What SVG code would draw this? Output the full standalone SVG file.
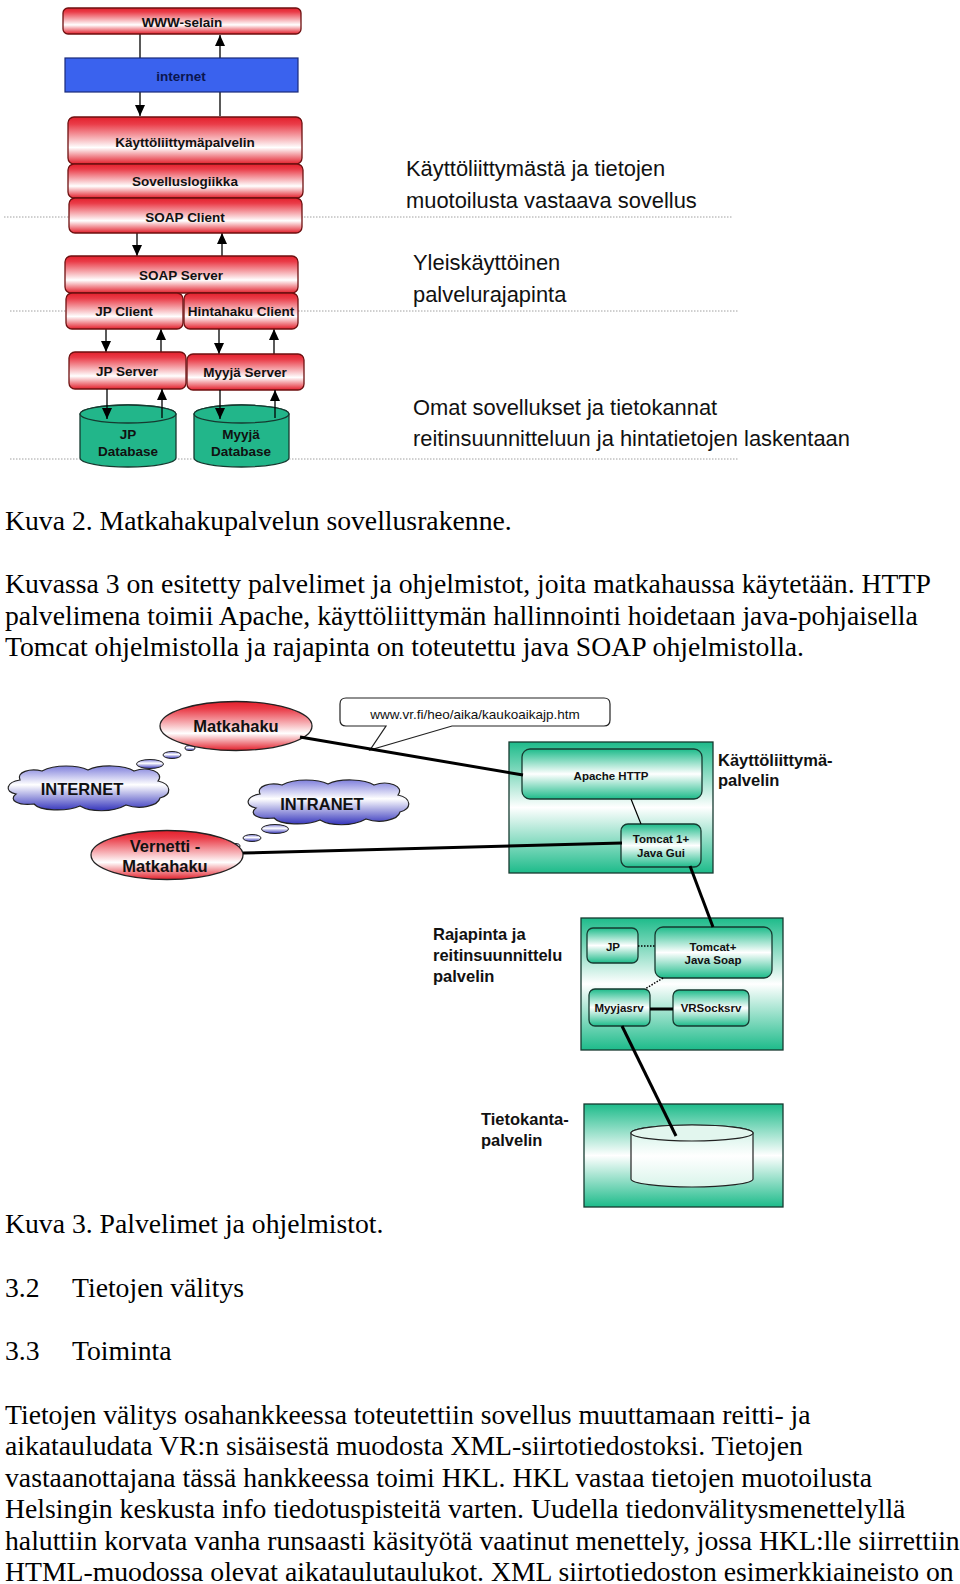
<svg xmlns="http://www.w3.org/2000/svg" width="960" height="1584" viewBox="0 0 960 1584">
<style>
.sep{stroke:#a0a0a0;stroke-width:1;stroke-dasharray:1.5 1.5;fill:none}
.rbox{fill:url(#redG);stroke:#6e1010;stroke-width:1.3}
.blab{font-family:"Liberation Sans",Arial,sans-serif;font-weight:bold;font-size:13.5px;fill:#111;text-anchor:middle}
.side{font-family:"Liberation Sans",Arial,sans-serif;font-size:21.9px;fill:#111}
.body{font-family:"Liberation Serif","Times New Roman",serif;font-size:27.7px;fill:#000}
.glab{font-family:"Liberation Sans",Arial,sans-serif;font-weight:bold;font-size:16.5px;fill:#111}
.ilab{font-family:"Liberation Sans",Arial,sans-serif;font-weight:bold;font-size:11.5px;fill:#111;text-anchor:middle}
.gbox{fill:url(#greenG);stroke:#163a30;stroke-width:1.3}
.arr{stroke:#000;stroke-width:1.3;fill:none}
.thick{stroke:#000;stroke-width:3;fill:none}
.thin{stroke:#000;stroke-width:1.2;fill:none}
.dot{stroke:#000;stroke-width:1.5;stroke-dasharray:1.5 1.5;fill:none}
.cloud{fill:url(#cloudG);stroke:#222;stroke-width:1.2}
.bub{fill:url(#cloudG);stroke:#222;stroke-width:1}
</style>
<defs>
<linearGradient id="redG" x1="0" y1="0" x2="0" y2="1">
<stop offset="0" stop-color="#e3202c"/>
<stop offset="0.15" stop-color="#ea3c48"/>
<stop offset="0.65" stop-color="#ffffff"/>
<stop offset="1" stop-color="#e3202c"/>
</linearGradient>
<linearGradient id="greenG" x1="0" y1="0" x2="0" y2="1">
<stop offset="0" stop-color="#1dbb8a"/>
<stop offset="0.5" stop-color="#ffffff"/>
<stop offset="1" stop-color="#1dbb8a"/>
</linearGradient>
<linearGradient id="cylG" x1="0" y1="0" x2="0" y2="1">
<stop offset="0" stop-color="#c8efe2"/>
<stop offset="0.5" stop-color="#ffffff"/>
<stop offset="1" stop-color="#d8f4ea"/>
</linearGradient>
<linearGradient id="cloudG" x1="0" y1="0" x2="0" y2="1">
<stop offset="0" stop-color="#8080dc"/>
<stop offset="0.42" stop-color="#ffffff"/>
<stop offset="1" stop-color="#3434bc"/>
</linearGradient>
<marker id="ah" markerUnits="userSpaceOnUse" markerWidth="11" markerHeight="10" refX="11" refY="5" orient="auto">
<path d="M0,0 L11,5 L0,10 Z" fill="#000"/>
</marker>
</defs>
<rect width="960" height="1584" fill="#fff"/>

<g id="separators">
<line class="sep" x1="4" y1="217" x2="732" y2="217"/>
<line class="sep" x1="10" y1="311" x2="738" y2="311"/>
<line class="sep" x1="10" y1="459" x2="739" y2="459"/>
</g>

<g id="stack-connectors">
<line class="arr" x1="140" y1="34" x2="140" y2="58"/>
<line class="arr" x1="140" y1="92" x2="140" y2="116" marker-end="url(#ah)"/>
<line class="arr" x1="220" y1="116" x2="220" y2="92"/>
<line class="arr" x1="220" y1="58" x2="220" y2="35" marker-end="url(#ah)"/>
<line class="arr" x1="137" y1="233" x2="137" y2="256" marker-end="url(#ah)"/>
<line class="arr" x1="222" y1="256" x2="222" y2="233" marker-end="url(#ah)"/>
<line class="arr" x1="106" y1="329" x2="106" y2="352" marker-end="url(#ah)"/>
<line class="arr" x1="161" y1="352" x2="161" y2="329" marker-end="url(#ah)"/>
<line class="arr" x1="219" y1="329" x2="219" y2="354" marker-end="url(#ah)"/>
<line class="arr" x1="274" y1="354" x2="274" y2="329" marker-end="url(#ah)"/>
</g>

<g id="www-selain"><rect class="rbox" x="63" y="8" width="238" height="26" rx="5"/><text class="blab" x="182" y="27">WWW-selain</text></g>
<g id="internet"><rect x="65" y="58" width="233" height="34" fill="#3a62ee" stroke="#1a2a7a" stroke-width="1.2"/><text class="blab" x="181" y="81" style="fill:#0b1650">internet</text></g>
<g id="kayttoliittymapalvelin"><rect class="rbox" x="68" y="117" width="234" height="47" rx="6"/><text class="blab" x="185" y="147">Käyttöliittymäpalvelin</text></g>
<g id="sovelluslogiikka"><rect class="rbox" x="68" y="164" width="235" height="34" rx="6"/><text class="blab" x="185" y="186">Sovelluslogiikka</text></g>
<g id="soap-client"><rect class="rbox" x="69" y="198" width="233" height="35" rx="6"/><text class="blab" x="185" y="222">SOAP Client</text></g>
<g id="soap-server"><rect class="rbox" x="65" y="256" width="233" height="37" rx="6"/><text class="blab" x="181" y="280">SOAP Server</text></g>
<g id="jp-client"><rect class="rbox" x="66" y="293" width="117" height="36" rx="6"/><text class="blab" x="124" y="316">JP Client</text></g>
<g id="hintahaku-client"><rect class="rbox" x="184" y="293" width="114" height="36" rx="6"/><text class="blab" x="241" y="316">Hintahaku Client</text></g>
<g id="jp-server"><rect class="rbox" x="69" y="352" width="117" height="37" rx="6"/><text class="blab" x="127" y="376">JP Server</text></g>
<g id="myyja-server"><rect class="rbox" x="187" y="354" width="117" height="36" rx="6"/><text class="blab" x="245" y="377">Myyjä Server</text></g>

<g id="jp-database">
<path d="M80,414 A48,9 0 0 1 176,414 L176,458 A48,9 0 0 1 80,458 Z" fill="#22b68a" stroke="#163a30" stroke-width="1.3"/>
<ellipse cx="128" cy="414" rx="48" ry="9" fill="#22b68a" stroke="#163a30" stroke-width="1.3"/>
<text class="blab" x="128" y="439">JP</text><text class="blab" x="128" y="456">Database</text>
</g>
<g id="myyja-database">
<path d="M194,414 A47.5,9 0 0 1 289,414 L289,458 A47.5,9 0 0 1 194,458 Z" fill="#22b68a" stroke="#163a30" stroke-width="1.3"/>
<ellipse cx="241.5" cy="414" rx="47.5" ry="9" fill="#22b68a" stroke="#163a30" stroke-width="1.3"/>
<text class="blab" x="241" y="439">Myyjä</text><text class="blab" x="241" y="456">Database</text>
</g>

<g id="db-connectors">
<line class="arr" x1="107" y1="389" x2="107" y2="419" marker-end="url(#ah)"/>
<line class="arr" x1="162" y1="418" x2="162" y2="389" marker-end="url(#ah)"/>
<line class="arr" x1="220" y1="390" x2="220" y2="419" marker-end="url(#ah)"/>
<line class="arr" x1="275" y1="418" x2="275" y2="390" marker-end="url(#ah)"/>
</g>

<g id="side-labels">
<text class="side" x="406" y="176">Käyttöliittymästä ja tietojen</text>
<text class="side" x="406" y="208">muotoilusta vastaava sovellus</text>
<text class="side" x="413" y="270">Yleiskäyttöinen</text>
<text class="side" x="413" y="302">palvelurajapinta</text>
<text class="side" x="413" y="415">Omat sovellukset ja tietokannat</text>
<text class="side" x="413" y="446">reitinsuunnitteluun ja hintatietojen laskentaan</text>
</g>

<g id="text-top">
<text class="body" x="5" y="530">Kuva 2. Matkahakupalvelun sovellusrakenne.</text>
<text class="body" x="5" y="593">Kuvassa 3 on esitetty palvelimet ja ohjelmistot, joita matkahaussa käytetään. HTTP</text>
<text class="body" x="5" y="624.5">palvelimena toimii Apache, käyttöliittymän hallinnointi hoidetaan java-pohjaisella</text>
<text class="body" x="5" y="656">Tomcat ohjelmistolla ja rajapinta on toteutettu java SOAP ohjelmistolla.</text>
</g>

<g id="bubbles">
<ellipse class="bub" cx="150" cy="764" rx="13.5" ry="4.5"/>
<ellipse class="bub" cx="172" cy="755" rx="9" ry="3.5"/>
<ellipse class="bub" cx="190" cy="748" rx="5" ry="2.5"/>
<ellipse class="bub" cx="275" cy="829" rx="13.5" ry="4.5"/>
<ellipse class="bub" cx="252" cy="838" rx="9" ry="3.5"/>
<ellipse class="bub" cx="235" cy="846" rx="5" ry="2.5"/>
</g>

<g id="internet-cloud">
<path class="cloud" d="M20,780 C16,772 30,768 42,771 C55,764 78,765 88,770 C100,764 125,765 134,771 C148,766 165,772 158,781 C172,784 172,795 160,798 C158,806 140,810 126,805 C112,813 90,812 80,806 C66,812 40,811 34,804 C18,806 8,800 16,794 C4,792 6,782 20,780 Z"/>
<text class="glab" x="82" y="795" text-anchor="middle">INTERNET</text>
</g>
<g id="intranet-cloud">
<path class="cloud" transform="translate(240,14)" d="M20,780 C16,772 30,768 42,771 C55,764 78,765 88,770 C100,764 125,765 134,771 C148,766 165,772 158,781 C172,784 172,795 160,798 C158,806 140,810 126,805 C112,813 90,812 80,806 C66,812 40,811 34,804 C18,806 8,800 16,794 C4,792 6,782 20,780 Z"/>
<text class="glab" x="322" y="810" text-anchor="middle">INTRANET</text>
</g>

<g id="matkahaku">
<ellipse cx="236" cy="726" rx="76" ry="24.5" fill="url(#redG)" stroke="#222" stroke-width="1.3"/>
<text class="glab" x="236" y="732" text-anchor="middle">Matkahaku</text>
</g>
<g id="vernetti">
<ellipse cx="167" cy="855" rx="76" ry="24.5" fill="url(#redG)" stroke="#222" stroke-width="1.3"/>
<text class="glab" x="165" y="852" text-anchor="middle">Vernetti -</text>
<text class="glab" x="165" y="872" text-anchor="middle">Matkahaku</text>
</g>

<g id="url-callout">
<path d="M346,698 L604,698 Q610,698 610,704 L610,720 Q610,726 604,726 L452,726 L370,750 L386,726 L346,726 Q340,726 340,720 L340,704 Q340,698 346,698 Z" fill="#fff" stroke="#222" stroke-width="1.2"/>
<text x="475" y="719" text-anchor="middle" style="font-family:'Liberation Sans',Arial,sans-serif;font-size:13.5px;fill:#111">www.vr.fi/heo/aika/kaukoaikajp.htm</text>
</g>

<g id="kayttoliittyma-server">
<rect class="gbox" x="509" y="742" width="204" height="131"/>
<text class="glab" x="718" y="766">Käyttöliittymä-</text>
<text class="glab" x="718" y="786">palvelin</text>
</g>
<g id="apache-http"><rect class="gbox" x="522" y="749" width="180" height="50" rx="8"/><text class="ilab" x="611" y="780">Apache HTTP</text></g>
<g id="tomcat1"><rect class="gbox" x="621" y="824" width="80" height="43" rx="7"/><text class="ilab" x="661" y="843">Tomcat 1+</text><text class="ilab" x="661" y="857">Java Gui</text></g>

<g id="rajapinta-server">
<rect class="gbox" x="581" y="918" width="202" height="132"/>
<text class="glab" x="433" y="940">Rajapinta ja</text>
<text class="glab" x="433" y="961">reitinsuunnittelu</text>
<text class="glab" x="433" y="982">palvelin</text>
</g>
<g id="jp"><rect class="gbox" x="587" y="928" width="51" height="35" rx="6"/><text class="ilab" x="613" y="951">JP</text></g>
<g id="tomcat-soap"><rect class="gbox" x="655" y="927" width="117" height="51" rx="8"/><text class="ilab" x="713" y="951">Tomcat+</text><text class="ilab" x="713" y="964">Java Soap</text></g>
<g id="myyjasrv"><rect class="gbox" x="589" y="989" width="61" height="37" rx="6"/><text class="ilab" x="619" y="1012">Myyjasrv</text></g>
<g id="vrsocksrv"><rect class="gbox" x="673" y="990" width="76" height="36" rx="6"/><text class="ilab" x="711" y="1012">VRSocksrv</text></g>

<g id="tietokanta-server">
<rect class="gbox" x="584" y="1104" width="199" height="103"/>
<path d="M631,1133 A61,8 0 0 1 753,1133 L753,1179 A61,8 0 0 1 631,1179 Z" fill="url(#cylG)" stroke="#222" stroke-width="1.2"/>
<ellipse cx="692" cy="1133" rx="61" ry="8" fill="#e2f6ee" stroke="#222" stroke-width="1.2"/>
<text class="glab" x="481" y="1125">Tietokanta-</text>
<text class="glab" x="481" y="1146">palvelin</text>
</g>

<g id="connectors">
<line class="thick" x1="300" y1="737" x2="523" y2="775"/>
<line class="thick" x1="243" y1="853" x2="622" y2="843"/>
<line class="thin" x1="631" y1="799" x2="641" y2="824"/>
<line class="thick" x1="690" y1="866" x2="713" y2="927"/>
<line class="dot" x1="638" y1="946" x2="655" y2="946"/>
<line class="dot" x1="663" y1="978" x2="645" y2="989"/>
<line class="thick" x1="650" y1="1009" x2="673" y2="1009"/>
<line class="thick" x1="622" y1="1026" x2="676" y2="1136"/>
</g>

<g id="text-bottom">
<text class="body" x="5" y="1233">Kuva 3. Palvelimet ja ohjelmistot.</text>
<text class="body" x="5" y="1297">3.2</text><text class="body" x="72" y="1297">Tietojen välitys</text>
<text class="body" x="5" y="1360">3.3</text><text class="body" x="72" y="1360">Toiminta</text>
<text class="body" x="5" y="1423.5">Tietojen välitys osahankkeessa toteutettiin sovellus muuttamaan reitti- ja</text>
<text class="body" x="5" y="1455">aikatauludata VR:n sisäisestä muodosta XML-siirtotiedostoksi. Tietojen</text>
<text class="body" x="5" y="1486.5">vastaanottajana tässä hankkeessa toimi HKL. HKL vastaa tietojen muotoilusta</text>
<text class="body" x="5" y="1518">Helsingin keskusta info tiedotuspisteitä varten. Uudella tiedonvälitysmenettelyllä</text>
<text class="body" x="5" y="1549.5">haluttiin korvata vanha runsaasti käsityötä vaatinut menettely, jossa HKL:lle siirrettiin</text>
<text class="body" x="5" y="1581">HTML-muodossa olevat aikataulutaulukot. XML siirtotiedoston esimerkkiaineisto on</text>
</g>
</svg>
